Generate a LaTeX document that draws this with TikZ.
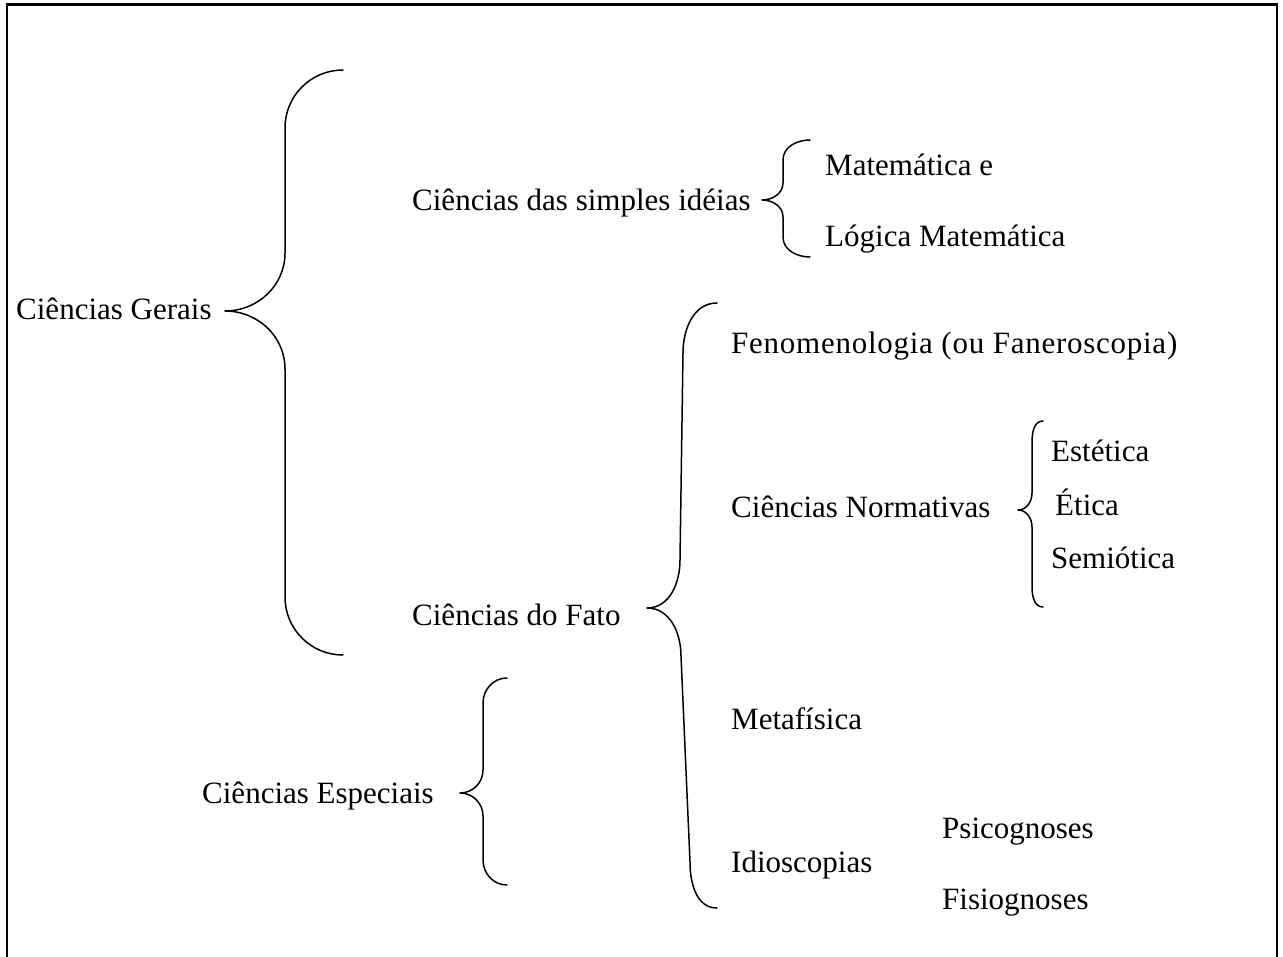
\documentclass[tikz,border=0pt]{standalone}
\usepackage{fontspec}
\setmainfont{Liberation Serif}
\begin{document}
\begin{tikzpicture}[x=1pt,y=-1pt,
  lbl/.style={anchor=base west,inner sep=0pt,font=\fontsize{31}{37}\selectfont},
  brace/.style={line width=1.5pt,line cap=round,line join=round},
  frame/.style={line width=2.5pt}]
\useasboundingbox (0,0) rectangle (1283,957);
% frame (bottom edge lies outside the picture)
\coordinate (fbl) at (7,1000);
\coordinate (ftl) at (7,4.3);
\coordinate (ftr) at (1277,4.3);
\coordinate (fbr) at (1277,1000);
\draw[frame] (fbl) -- (ftl) -- (ftr) -- (fbr);

% texts
\node[lbl] (gerais)   at (16,320)   {Ciências Gerais};
\node[lbl] (ideias)   at (412,211)  {Ciências das simples idéias};
\node[lbl] (mat)      at (825,176)  {Matemática e};
\node[lbl] (logica)   at (825,247)  {Lógica Matemática};
\node[lbl] (fenom)    at (731,354)  {\addfontfeature{LetterSpace=2.4}Fenomenologia (ou Faneroscopia)};
\node[lbl] (normat)   at (731,517)  {Ciências Normativas};
\node[lbl] (estetica) at (1051,461) {Estética};
\node[lbl] (etica)    at (1055,515) {Ética};
\node[lbl] (semio)    at (1051,568) {Semiótica};
\node[lbl] (fato)     at (412,625)  {Ciências do Fato};
\node[lbl] (metaf)    at (731,729)  {Metafísica};
\node[lbl] (espec)    at (202,803)  {Ciências Especiais};
\node[lbl] (psico)    at (942,838)  {Psicognoses};
\node[lbl] (idio)     at (731,872)  {Idioscopias};
\node[lbl] (fisio)    at (942,909)  {Fisiognoses};

% brace: Ciencias Gerais
\draw[brace] (343,70) to[out=180,in=90] (285,128) -- (285,253)
  to[out=-90,in=0] (225,311) to[out=0,in=90] (285,369) -- (285,597)
  to[out=-90,in=180] (343,655);
% brace: simples ideias
\draw[brace] (810,140) to[out=180,in=90] (783,160) -- (783,183)
  to[out=-90,in=0] (762,200) to[out=0,in=90] (783,217) -- (783,237)
  to[out=-90,in=180] (810,257);
% brace: Ciencias do Fato
\draw[brace] (717,303) to[out=180,in=90] (683,353) -- (680,560)
  to[out=-90,in=0] (647,608) to[out=0,in=90] (681,656) -- (690,862)
  to[out=-90,in=180] (717,908);
% brace: Ciencias Normativas
\draw[brace] (1043,421) to[out=180,in=90] (1032,443) -- (1032,493)
  to[out=-90,in=0] (1018,510) to[out=0,in=90] (1032,527) -- (1032,587)
  to[out=-90,in=180] (1043,607);
% brace: Ciencias Especiais
\draw[brace] (507,678) to[out=180,in=90] (483,703) -- (483,770)
  to[out=-90,in=0] (460,793) to[out=0,in=90] (483,816) -- (483,860)
  to[out=-90,in=180] (507,885);
\end{tikzpicture}
\end{document}
